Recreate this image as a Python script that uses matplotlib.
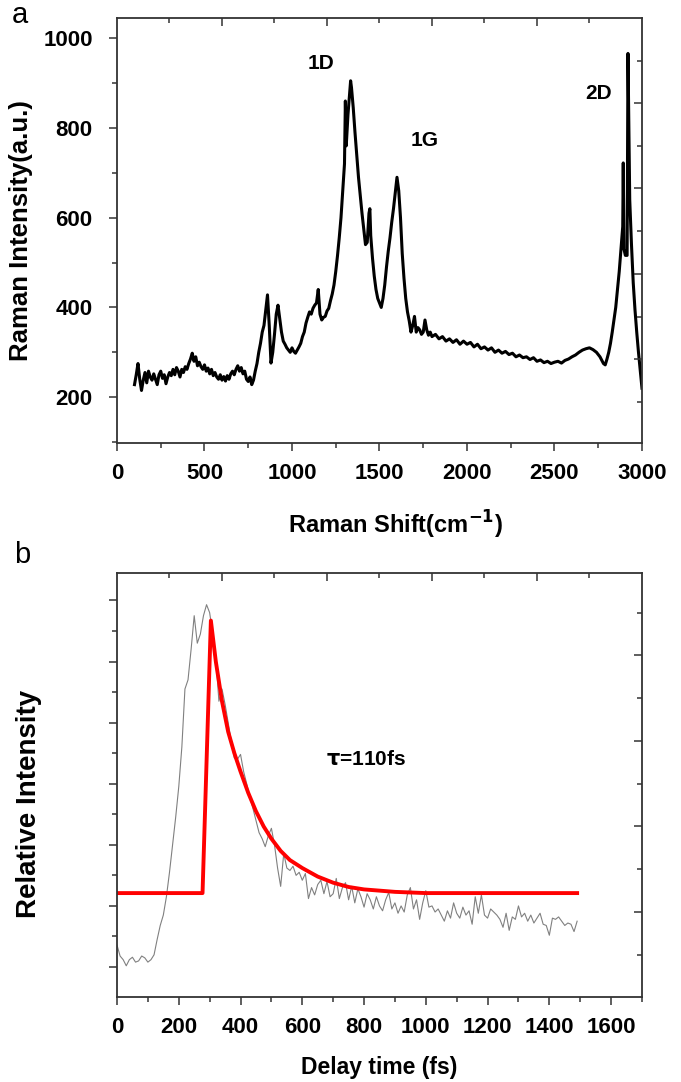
import numpy as np
import matplotlib
matplotlib.use('Agg')
import matplotlib.pyplot as plt
from matplotlib.ticker import FixedLocator, MultipleLocator, NullFormatter

plt.rcParams['font.family'] = ['Liberation Sans', 'DejaVu Sans']

# panel a: Raman spectrum
raman_shift = [100, 110, 120, 130, 140, 150, 160, 170, 180, 190,
               200, 210, 220, 230, 240, 250, 260, 270, 280, 290,
               300, 310, 320, 330, 340, 350, 360, 370, 380, 390,
               400, 410, 420, 430, 440, 450, 460, 470, 480, 490,
               500, 510, 520, 530, 540, 550, 560, 570, 580, 590,
               600, 610, 620, 630, 640, 650, 660, 670, 680, 690,
               700, 710, 720, 730, 740, 750, 760, 770, 780, 790,
               800, 810, 820, 830, 840, 850, 860, 870, 880, 890,
               900, 910, 920, 930, 940, 950, 960, 970, 980, 990,
               1000, 1010, 1020, 1030, 1040, 1050, 1060, 1070, 1080, 1090,
               1100, 1110, 1120, 1130, 1140, 1150, 1160, 1170, 1180, 1190,
               1200, 1210, 1220, 1230, 1240, 1250, 1260, 1270, 1280, 1290,
               1300, 1305, 1310, 1320, 1330, 1335, 1340, 1350, 1360, 1370,
               1380, 1390, 1400, 1410, 1420, 1430, 1440, 1445, 1450, 1460,
               1470, 1480, 1490, 1500, 1510, 1520, 1530, 1540, 1550, 1560,
               1570, 1580, 1590, 1600, 1610, 1620, 1630, 1640, 1650, 1660,
               1670, 1680, 1690, 1700, 1710, 1720, 1730, 1740, 1750, 1760,
               1770, 1780, 1790, 1800, 1820, 1840, 1860, 1880, 1900, 1920,
               1940, 1960, 1980, 2000, 2020, 2040, 2060, 2080, 2100, 2120,
               2140, 2160, 2180, 2200, 2220, 2240, 2260, 2280, 2300, 2320,
               2340, 2360, 2380, 2400, 2420, 2440, 2460, 2480, 2500, 2520,
               2540, 2560, 2580, 2600, 2620, 2640, 2660, 2680, 2700, 2720,
               2740, 2760, 2780, 2790, 2800, 2810, 2820, 2830, 2840, 2850,
               2860, 2870, 2880, 2890, 2893, 2897, 2905, 2915, 2920, 2925,
               2930, 2940, 2950, 2960, 2970, 2980, 2990, 3000]
raman_intensity = [228, 250, 275, 240, 215, 238, 255, 232, 258, 245,
                   238, 252, 240, 228, 250, 258, 242, 250, 230, 245,
                   255, 248, 262, 250, 266, 258, 245, 262, 255, 268,
                   262, 275, 285, 298, 280, 290, 270, 278, 268, 262,
                   272, 258, 265, 252, 262, 248, 255, 245, 240, 250,
                   238, 246, 236, 248, 240, 252, 258, 250, 262, 270,
                   258, 266, 252, 258, 240, 235, 245, 228, 238, 258,
                   275, 300, 320, 345, 360, 395, 428, 360, 276, 300,
                   340, 385, 405, 375, 345, 325, 318, 310, 305, 300,
                   310, 302, 298, 305, 312, 320, 335, 345, 365, 378,
                   390, 385, 398, 405, 410, 440, 385, 372, 378, 380,
                   392, 398, 415, 430, 450, 480, 515, 555, 600, 660,
                   720, 860, 760, 830, 880, 905, 890, 845, 790, 740,
                   690, 650, 610, 575, 540, 545, 610, 620, 560, 510,
                   470, 440, 420, 410, 400, 420, 450, 490, 525, 555,
                   590, 620, 655, 690, 660, 600, 520, 465, 420, 390,
                   370, 345, 360, 380, 345, 355, 350, 340, 345, 372,
                   350, 338, 345, 335, 340, 330, 335, 325, 330, 322,
                   328, 318, 325, 318, 322, 312, 318, 308, 312, 305,
                   310, 300, 305, 298, 302, 295, 298, 290, 294, 288,
                   290, 284, 288, 280, 283, 277, 280, 275, 278, 280,
                   276, 282, 285, 290, 294, 300, 305, 308, 310, 306,
                   300, 290, 275, 272, 285, 300, 320, 345, 372, 400,
                   440, 480, 530, 580, 722, 530, 516, 516, 966, 800,
                   640, 540, 455, 395, 345, 300, 260, 220]
peak_labels = ['1D', '1G', '2D']
peak_x = [1166, 1760, 2754]
peak_y = [944, 773, 877]

# panel b: pump-probe trace and exponential fit
delay_time = np.arange(0, 1500, 10)
rel_intensity = [0.36, 0.18, 0.12, 0.02, 0.12, 0.16, 0.08, 0.10, 0.18, 0.15,
                 0.08, 0.12, 0.20, 0.45, 0.68, 0.85, 1.15, 1.55, 2.00, 2.45,
                 2.95, 3.60, 4.55, 4.70, 5.20, 5.75, 5.30, 5.45, 5.75, 5.93,
                 5.80, 5.45, 5.05, 4.35, 4.55, 4.30, 4.00, 3.70, 3.42, 3.40,
                 3.48, 3.20, 3.00, 2.78, 2.60, 2.40, 2.20, 2.10, 1.97, 2.15,
                 2.27, 2.00, 1.62, 1.32, 1.86, 1.62, 1.58, 1.65, 1.50, 1.55,
                 1.42, 1.53, 1.12, 1.30, 1.18, 1.35, 1.42, 1.20, 1.40, 1.15,
                 1.20, 1.45, 1.12, 1.30, 1.38, 1.10, 1.32, 1.05, 1.28, 1.15,
                 0.98, 1.20, 1.10, 0.95, 1.15, 1.00, 0.92, 1.10, 1.22, 0.95,
                 1.05, 0.88, 1.00, 0.90, 1.18, 1.30, 0.95, 1.10, 0.78, 1.05,
                 1.25, 0.98, 1.00, 0.90, 0.95, 0.85, 0.75, 0.92, 0.80, 1.05,
                 0.88, 0.80, 0.98, 0.85, 0.92, 0.70, 1.15, 0.88, 1.18, 0.85,
                 0.80, 0.95, 0.90, 0.85, 0.78, 0.65, 0.88, 0.60, 0.82, 0.78,
                 1.00, 0.82, 0.88, 0.75, 0.85, 0.72, 0.80, 0.88, 0.70, 0.68,
                 0.52, 0.80, 0.78, 0.82, 0.75, 0.68, 0.72, 0.70, 0.58, 0.75]
fit_time = [0, 277, 304, 320, 340, 360, 380, 400, 425, 450, 475, 500,
            530, 560, 600, 650, 700, 750, 800, 900, 1000, 1490]
fit_value = [1.21, 1.21, 5.67, 5.00, 4.35, 3.85, 3.50, 3.20, 2.85, 2.55, 2.30, 2.10,
             1.90, 1.75, 1.62, 1.48, 1.38, 1.31, 1.27, 1.23, 1.21, 1.21]
tau_label = r'$\mathbf{\tau}$=110fs'


def style_box(ax):
    for s in ax.spines.values():
        s.set_linewidth(1.3)
        s.set_color('#333333')
    ax.tick_params(which='major', direction='out', length=5.5, width=1.1,
                   color='#333333', labelsize=16)
    ax.tick_params(which='minor', direction='out', length=3.5, width=1.1,
                   color='#333333')
    ax.tick_params(axis='x', which='major', pad=9)
    ax.tick_params(axis='y', which='major', pad=12)
    ax.tick_params(top=False, right=False, which='both')
    for lab in ax.get_xticklabels() + ax.get_yticklabels():
        lab.set_fontweight('bold')


def mirror_ticks(ax, top_major, top_minor, right_major, right_minor):
    tx = ax.twiny()
    tx.set_xlim(ax.get_xlim())
    tx.xaxis.set_major_locator(FixedLocator(top_major))
    tx.xaxis.set_minor_locator(FixedLocator(top_minor))
    tx.xaxis.set_major_formatter(NullFormatter())
    tx.tick_params(which='major', direction='in', length=5.5, width=1.1, color='#333333')
    tx.tick_params(which='minor', direction='in', length=3.5, width=1.1, color='#333333')
    ty = ax.twinx()
    ty.set_ylim(ax.get_ylim())
    ty.yaxis.set_major_locator(FixedLocator(right_major))
    ty.yaxis.set_minor_locator(FixedLocator(right_minor))
    ty.yaxis.set_major_formatter(NullFormatter())
    ty.tick_params(which='major', direction='in', length=5.5, width=1.1, color='#333333')
    ty.tick_params(which='minor', direction='in', length=3.5, width=1.1, color='#333333')
    for t in (tx, ty):
        for s in t.spines.values():
            s.set_visible(False)


fig = plt.figure(figsize=(6.81, 10.82), dpi=100)

# ---- panel a
ax1 = fig.add_axes([0.1718, 0.5906, 0.7709, 0.3928])
ax1.plot(raman_shift, raman_intensity, color='black', lw=2.2)
ax1.set_xlim(0, 3000)
ax1.set_ylim(98, 1045)
ax1.xaxis.set_major_locator(MultipleLocator(500))
ax1.xaxis.set_minor_locator(MultipleLocator(250))
ax1.yaxis.set_major_locator(MultipleLocator(200))
ax1.yaxis.set_minor_locator(MultipleLocator(100))
style_box(ax1)
ax1.set_xlabel('Raman Shift(cm$^{\\mathbf{-1}}$)', fontsize=17, fontweight='bold')
ax1.set_ylabel('Raman Intensity(a.u.)', fontsize=18.5, fontweight='bold')
ax1.xaxis.set_label_coords(0.53, -0.155)
ax1.yaxis.set_label_coords(-0.16, 0.5)
for lab, x, y in zip(peak_labels, peak_x, peak_y):
    ax1.text(x, y, lab, fontsize=15, fontweight='bold', ha='center', va='center')
mirror_ticks(ax1, [600, 1200, 1800, 2400], [300, 900, 1500, 2100, 2700],
             [855, 666, 474, 285], [949, 759, 570, 378, 189])

# ---- panel b
ax2 = fig.add_axes([0.1718, 0.0786, 0.7709, 0.3919])
ax2.plot(delay_time, rel_intensity, color='#808080', lw=0.8)
ax2.plot(fit_time, fit_value, color='#ff0000', lw=2.8)
ax2.set_xlim(0, 1700)
ax2.set_ylim(-0.49, 6.45)
ax2.xaxis.set_major_locator(MultipleLocator(200))
ax2.xaxis.set_minor_locator(MultipleLocator(100))
ax2.yaxis.set_major_locator(MultipleLocator(1))
ax2.yaxis.set_minor_locator(MultipleLocator(0.5))
ax2.yaxis.set_major_formatter(NullFormatter())
style_box(ax2)
ax2.set_xlabel('Delay time (fs)', fontsize=16.5, fontweight='bold')
ax2.set_ylabel('Relative Intensity', fontsize=20, fontweight='bold')
ax2.xaxis.set_label_coords(0.5, -0.14)
ax2.yaxis.set_label_coords(-0.143, 0.455)
ax2.text(808, 3.40, tau_label, fontsize=15, fontweight='bold', ha='center', va='center')
mirror_ticks(ax2, [340, 680, 1020, 1360], [170, 510, 850, 1190, 1530],
             [5.10, 3.70, 2.30, 0.90], [5.80, 4.40, 3.00, 1.60, 0.20])

fig.text(0.029, 0.986, 'a', fontsize=21, ha='center', va='center')
fig.text(0.032, 0.487, 'b', fontsize=21, ha='center', va='center')

fig.savefig('out.png', dpi=100)
